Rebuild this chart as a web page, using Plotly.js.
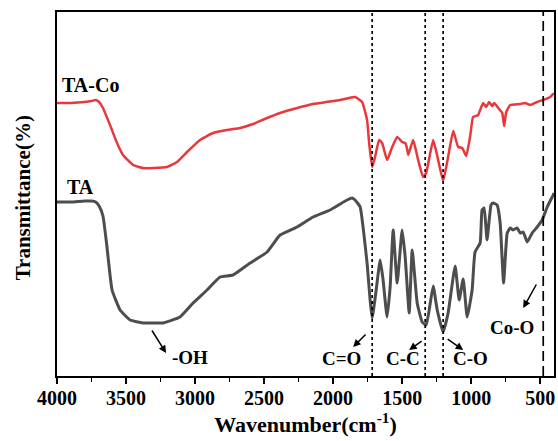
<!DOCTYPE html>
<html>
<head>
<meta charset="utf-8">
<script src="https://cdn.plot.ly/plotly-3.0.1.min.js"></script>
<style>html,body{margin:0;padding:0;background:#fff;}#chart{width:558px;height:441px;}</style>
</head>
<body>
<div id="chart"></div>
<script>
// TA-Co spectrum (wavenumber, cm^-1) and transmittance (arbitrary units)
var waveTACo = [4000,3900,3800,3750,3720,3695,3667,3616,3565,3522,3449,3377,3300,3203,3130,3058,2964,2870,2768,2674,2580,2478,2384,2260,2145,2050,1950,1841,1790,1754,1739,1717,1696,1667,1645,1609,1572,1536,1500,1478,1467,1456,1420,1384,1348,1326,1275,1239,1203,1167,1130,1094,1065,1036,1007,986,949,935,913,891,870,848,833,804,775,761,746,717,645,609,572,522,478,427,406,400];
var transTACo = [273,273,274,275,276,274,268,251,233,221,211,208,208,209,214,224,236,243,246,248,252,258,263,268,272,274,276,279,274,256,233,209,219,236,233,216,229,239,234,233,229,221,236,216,199,203,236,216,195,219,245,229,228,220,240,259,261,266,273,269,274,270,273,268,263,250,264,271,272,273,271,274,276,279,282,282];

// TA spectrum
var waveTA = [4000,3900,3800,3750,3720,3695,3667,3638,3601,3543,3471,3377,3300,3232,3109,3014,2913,2819,2725,2601,2478,2384,2261,2145,2022,1899,1862,1841,1804,1783,1754,1732,1717,1688,1659,1638,1609,1587,1565,1536,1500,1478,1449,1427,1391,1355,1326,1304,1275,1246,1203,1167,1116,1087,1058,1029,993,972,935,921,906,885,856,841,812,790,765,739,717,696,667,645,623,594,558,522,486,449,406,400];
var transTA = [174,174,175,175,174,170,160,129,86,66,56,53,53,53,59,73,86,99,101,113,124,141,149,159,166,176,178,176,169,149,113,76,58,86,116,96,59,89,146,93,146,119,63,126,73,54,51,66,90,66,44,63,110,76,97,59,86,124,133,166,168,136,171,173,171,153,93,143,148,146,148,143,144,134,143,149,156,169,181,183];

var seriesNames = ["TA-Co", "TA"];
var markerWaves = [1717, 1333, 1203, 478];
var markerDash = ["3px,3px", "3px,3px", "3px,3px", "10px,5px"];
var bandLabels = ["-OH", "C=O", "C-C", "C-O", "Co-O"];
var xTickVals = [4000, 3500, 3000, 2500, 2000, 1500, 1000, 500];

var FONT = "Liberation Serif, Times New Roman, serif";

var traces = [
  {x: waveTACo, y: transTACo, name: seriesNames[0], type: "scatter", mode: "lines",
   line: {color: "#e8383b", width: 2.5, shape: "spline", smoothing: 0.4}},
  {x: waveTA, y: transTA, name: seriesNames[1], type: "scatter", mode: "lines",
   line: {color: "#4d4d4d", width: 3, shape: "spline", smoothing: 0.4}}
];

var shapes = markerWaves.map(function (w, i) {
  return {type: "line", xref: "x", yref: "paper", x0: w, x1: w, y0: 0, y1: 1,
          line: {color: "#000", width: 1.7, dash: markerDash[i]}};
});

function lbl(text, x, y, size, xanchor) {
  return {text: text, x: x, y: y, xref: "x", yref: "y", showarrow: false,
          xanchor: xanchor || "center", yanchor: "middle",
          font: {family: FONT, size: size, color: "#000", weight: "bold"}};
}
function arr(x0, y0, x1, y1) {
  return {text: "", x: x1, y: y1, ax: x0, ay: y0, xref: "x", yref: "y", axref: "x", ayref: "y",
          showarrow: true, arrowhead: 2, arrowsize: 1, arrowwidth: 1.5, arrowcolor: "#000"};
}

var annotations = [
  lbl(seriesNames[0], 3978, 291, 20, "left"),
  lbl(seriesNames[1], 3833, 189, 20),
  arr(3319, 47, 3210, 23), lbl(bandLabels[0], 3036, 19, 19),
  arr(1754, 43, 1855, 29), lbl(bandLabels[1], 1942, 18, 19),
  arr(1348, 36, 1449, 26), lbl(bandLabels[2], 1493, 18, 19),
  arr(1181, 38, 1058, 26), lbl(bandLabels[3], 1007, 18, 19),
  arr(522, 93, 623, 68), lbl(bandLabels[4], 703, 49, 19),
  {text: "Transmittance(%)", xref: "paper", yref: "paper", x: -0.069, y: 0.49,
   textangle: -90, showarrow: false, xanchor: "center", yanchor: "middle",
   font: {family: FONT, size: 21, color: "#000", weight: "bold"}}
];

var layout = {
  width: 558, height: 441,
  margin: {l: 57, r: 4, t: 12, b: 65},
  paper_bgcolor: "#fff", plot_bgcolor: "#fff",
  showlegend: false,
  xaxis: {
    range: [4000, 400], autorange: false,
    tickvals: xTickVals, ticks: "outside", ticklen: 6, tickwidth: 2, tickcolor: "#000",
    ticklabelstandoff: -3,
    minor: {dtick: 250, tick0: 0, ticks: "outside", ticklen: 4, tickwidth: 1.5, tickcolor: "#000"},
    showline: true, mirror: true, linewidth: 2, linecolor: "#000",
    showgrid: false, zeroline: false,
    tickfont: {family: FONT, size: 20, color: "#000", weight: "bold"},
    title: {text: "Wavenumber(cm<sup>-1</sup>)", standoff: 0,
            font: {family: FONT, size: 22, color: "#000", weight: "bold"}}
  },
  yaxis: {
    range: [0, 364], autorange: false,
    showticklabels: false, ticks: "",
    showline: true, mirror: true, linewidth: 2, linecolor: "#000",
    showgrid: false, zeroline: false
  },
  shapes: shapes,
  annotations: annotations
};

Plotly.newPlot("chart", traces, layout, {displayModeBar: false, staticPlot: true});
</script>
</body>
</html>
